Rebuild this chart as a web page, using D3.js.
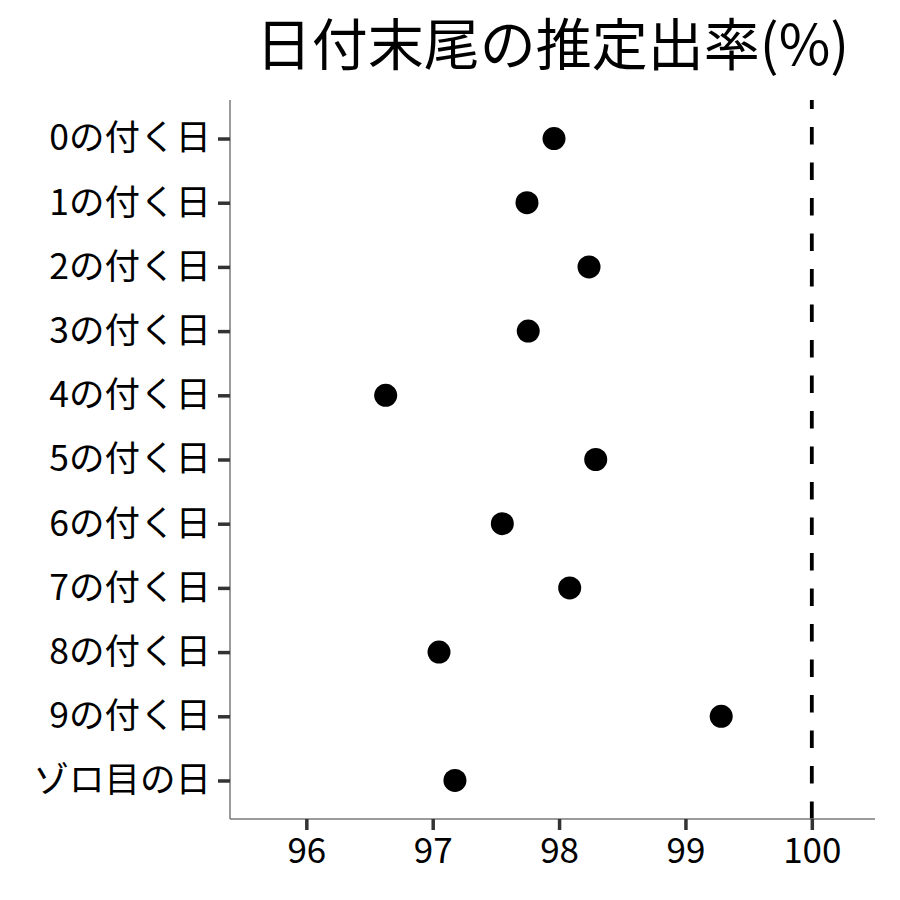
<!DOCTYPE html>
<html>
<head>
<meta charset="utf-8">
<script src="https://cdn.jsdelivr.net/npm/d3@7"></script>
<style>
  html, body { margin: 0; padding: 0; background: #fff; }
  svg { display: block; }
  text { font-family: "Noto Sans CJK JP", "Noto Sans", sans-serif; }
</style>
</head>
<body>
<script>
const title = "日付末尾の推定出率(%)";
const categories = ["0の付く日","1の付く日","2の付く日","3の付く日","4の付く日","5の付く日","6の付く日","7の付く日","8の付く日","9の付く日","ゾロ目の日"];
const values = [97.96, 97.746, 98.237, 97.756, 96.628, 98.29, 97.551, 98.084, 97.05, 99.283, 97.176];
const xTicks = [96, 97, 98, 99, 100];
const refLine = 100;

const W = 900, H = 900;
const panel = { left: 230, right: 875, top: 100, bottom: 819 };

const svg = d3.select("body").append("svg").attr("width", W).attr("height", H);

const x = d3.scaleLinear().domain([95.396, 100.5]).range([panel.left, panel.right]);
const y = d3.scalePoint().domain(categories).range([panel.top, panel.bottom]).padding(0.6);

// reference dashed line (pattern starts at bottom)
svg.append("line")
  .attr("x1", x(refLine)).attr("x2", x(refLine))
  .attr("y1", panel.bottom).attr("y2", panel.top)
  .attr("stroke", "#000").attr("stroke-width", 3.8)
  .attr("stroke-dasharray", "17.5,18");

// points
svg.append("g").selectAll("circle").data(categories).join("circle")
  .attr("cx", (d, i) => x(values[i]))
  .attr("cy", d => y(d))
  .attr("r", 11.5)
  .attr("fill", "#000");

// x axis
const xAxis = svg.append("g").attr("transform", `translate(0,${panel.bottom})`)
  .call(d3.axisBottom(x).tickValues(xTicks).tickSize(11).tickPadding(8).tickFormat(d3.format("d")));
xAxis.select(".domain").attr("stroke", "#7a7a7a").attr("stroke-width", 1.5)
  .attr("d", `M${panel.left},0H${panel.right}`);
xAxis.selectAll(".tick line").attr("stroke", "#333").attr("stroke-width", 3.5);
xAxis.selectAll(".tick text").attr("fill", "#000").style("font-size", "35px")
  .style("font-family", '"Noto Sans CJK JP", sans-serif');

// y axis
const yAxis = svg.append("g").attr("transform", `translate(${panel.left},0)`)
  .call(d3.axisLeft(y).tickSize(12).tickPadding(7));
yAxis.select(".domain").attr("stroke", "#7a7a7a").attr("stroke-width", 1.5)
  .attr("d", `M0,${panel.top}V${panel.bottom}`);
yAxis.selectAll(".tick line").attr("stroke", "#333").attr("stroke-width", 3.5);
yAxis.selectAll(".tick text").attr("fill", "#000").style("font-size", "35.5px")
  .style("font-family", '"Noto Sans CJK JP", sans-serif');

// title
svg.append("text")
  .attr("x", (panel.left + panel.right) / 2)
  .attr("y", 65)
  .attr("text-anchor", "middle")
  .style("font-size", "56px")
  .attr("fill", "#000")
  .text(title);
</script>
</body>
</html>
